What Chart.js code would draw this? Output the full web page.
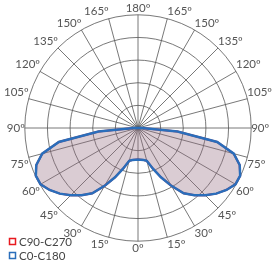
<!DOCTYPE html>
<html>
<head>
    <title>Polar light distribution</title>
    <script src="https://cdn.jsdelivr.net/npm/chart.js@4.4.1/dist/chart.umd.min.js"></script>
    <style>
        html, body { margin: 0; padding: 0; background: #fff; }
        #wrap { position: relative; width: 276px; height: 262px; }
    </style>
</head>
<body>
<div id="wrap"><canvas id="canvas"></canvas></div>
<script>
    // gamma angles, 0 = straight down, 180 = straight up
    var gammaAngles = [0, 5, 10, 15, 20, 25, 30, 35, 40, 45, 50, 55, 60, 65, 70, 75, 80, 85, 90,
        95, 100, 105, 110, 115, 120, 125, 130, 135, 140, 145, 150, 155, 160, 165, 170, 175, 180];
    // intensity, same on both halves of each plane
    var c0c180 = [139, 141, 144, 150, 190, 240, 295, 352, 388, 420, 451, 477, 497, 498, 478, 438, 355, 175, 18,
        6, 3, 1, 0, 0, 0, 0, 0, 0, 0, 0, 0, 0, 0, 0, 0, 0, 0];
    var c90c270 = [139, 141, 144, 150, 190, 240, 295, 352, 388, 420, 451, 477, 497, 498, 478, 438, 355, 175, 18,
        6, 3, 1, 0, 0, 0, 0, 0, 0, 0, 0, 0, 0, 0, 0, 0, 0, 0];
    var seriesNames = ['C90-C270', 'C0-C180'];
    var labelStep = 15;

    // go round the full circle: one half then the mirrored other half
    var labels = [], blue = [], red = [];
    for (var i = 0; i < gammaAngles.length; i++) {
        labels.push(gammaAngles[i]); blue.push(c0c180[i]); red.push(c90c270[i]);
    }
    for (var j = gammaAngles.length - 2; j > 0; j--) {
        labels.push(gammaAngles[j]); blue.push(c0c180[j]); red.push(c90c270[j]);
    }

    var legendBoxes = {
        id: 'legendBoxes',
        afterDraw: function(chart) {
            var ctx = chart.ctx;
            ctx.save();
            ctx.font = '11.5px Lato';
            ctx.textBaseline = 'middle';
            var items = [
                {text: seriesNames[0], color: '#e8191f', y: 242},
                {text: seriesNames[1], color: '#2a6ebb', y: 256}
            ];
            items.forEach(function(it) {
                ctx.strokeStyle = it.color;
                ctx.lineWidth = 1.5;
                ctx.strokeRect(9.5, it.y - 3.5, 6, 6);
                ctx.fillStyle = '#444';
                ctx.fillText(it.text, 19, it.y);
            });
            ctx.restore();
        }
    };

    var context = document.getElementById('canvas').getContext('2d');
    var chart = new Chart(context, {
        type: 'radar',
        data: {
            labels: labels,
            datasets: [
                {
                    label: seriesNames[0],
                    data: red,
                    borderColor: '#e8191f',
                    borderWidth: 2,
                    backgroundColor: 'rgba(150,110,130,0.35)',
                    fill: true,
                    pointRadius: 0,
                    tension: 0,
                    order: 2
                },
                {
                    label: seriesNames[1],
                    data: blue,
                    borderColor: '#2a6ebb',
                    borderWidth: 2.5,
                    fill: false,
                    pointRadius: 0,
                    tension: 0,
                    order: 1
                }
            ]
        },
        options: {
            responsive: true,
            maintainAspectRatio: false,
            animation: false,
            layout: { padding: { left: 0, right: 0, top: 2, bottom: 6 } },
            plugins: { legend: { display: false }, tooltip: { enabled: false } },
            scales: {
                r: {
                    min: 0,
                    max: 500,
                    startAngle: 180,
                    ticks: { display: false, stepSize: 100 },
                    grid: { circular: true, color: '#555', lineWidth: 0.8 },
                    angleLines: {
                        lineWidth: 0.8,
                        color: function(c) {
                            return labels[c.index] % labelStep === 0 ? '#555' : 'rgba(0,0,0,0)';
                        }
                    },
                    pointLabels: {
                        padding: 0,
                        color: '#555',
                        font: { family: 'Lato', size: 11.5 },
                        callback: function(v) {
                            return v % labelStep === 0 ? v + 'º' : '';
                        }
                    }
                }
            }
        },
        plugins: [legendBoxes]
    });
</script>
</body>
</html>
